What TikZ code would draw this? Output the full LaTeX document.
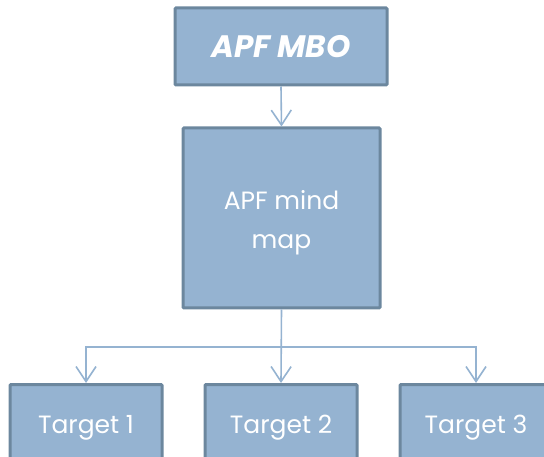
\documentclass[tikz,border=0pt]{standalone}
\usepackage{fontspec}
\setmainfont{Poppins}
\usetikzlibrary{arrows.meta}
\definecolor{boxfill}{HTML}{95B3D1}
\definecolor{boxline}{HTML}{6C879E}
\definecolor{arrowc}{HTML}{95B3D1}
\tikzset{
  box/.style={draw=boxline, fill=boxfill, line width=3pt, rounded corners=1pt,
    text=white, align=center, inner sep=0pt},
  conn/.style={draw=arrowc, line width=1.6pt, -{Straight Barb[length=15pt,width=20pt,line width=1.6pt]}},
  tgt/.style={box, minimum width=152pt, minimum height=100pt},
  lbl/.style={text=white, font=\fontsize{25}{30}\selectfont}
}
\begin{document}
\begin{tikzpicture}[x=1pt,y=-1pt]
\useasboundingbox (0,0) rectangle (544,457);
\node[box, minimum width=212pt, minimum height=77pt, font=\fontsize{31}{36}\selectfont\bfseries\itshape] (mbo) at (281,46.5) {APF MBO};
\node[box, minimum width=197pt, minimum height=180pt] (mind) at (281.5,218) {};
\node[lbl, align=center, font=\fontsize{25}{39}\selectfont] (mindtxt) at (281.5,223) {APF mind\\map};
\node[tgt, anchor=north] (t1) at (86,383) {};
\node[tgt, anchor=north] (t2) at (281,383) {};
\node[tgt, anchor=north] (t3) at (476,383) {};
\node[lbl] (l1) at (86,428) {Target 1};
\node[lbl] (l2) at (281,428) {Target 2};
\node[lbl] (l3) at (476,428) {Target 3};
\coordinate (j) at (281,347);
\draw[conn] (mbo.south) -- (mind.north);
\draw[conn] (mind.south) -- (t2.north);
\draw[conn] (j) -| (t1.north);
\draw[conn] (j) -| (t3.north);
\end{tikzpicture}
\end{document}
